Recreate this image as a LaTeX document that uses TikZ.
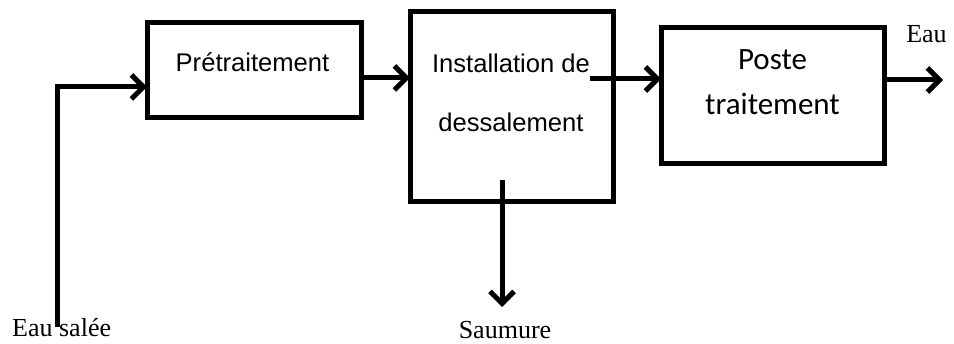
\documentclass[tikz,border=0pt]{standalone}
\usepackage{fontspec}
\setmainfont{Liberation Serif}
\newfontfamily\arialf{Liberation Sans}
\newfontfamily\calibrif{Carlito}
\usetikzlibrary{arrows.meta}

\begin{document}
\begin{tikzpicture}[x=1pt, y=-1pt,
  bloc/.style={draw, line width=5pt, inner sep=0pt, outer sep=0pt},
  flux/.style={line width=5pt, -{Straight Barb[length=12pt, width=24pt]}},
  texte/.style={anchor=base, inner sep=0pt, align=center},
  etiquette/.style={anchor=base, inner sep=0pt, font=\fontsize{26}{30}\selectfont}]
\useasboundingbox (0,0) rectangle (954,344);
% blocs
\node[bloc, minimum width=214pt, minimum height=95pt] (pretrait) at (254,70.5) {};
\node[bloc, minimum width=203pt, minimum height=190pt] (dessal) at (511.5,107) {};
\node[bloc, minimum width=223pt, minimum height=136pt] (poste) at (772.5,96) {};
\node[texte, font=\arialf\fontsize{25.6}{30}\selectfont] (pretraittxt) at (252.5,72) {Prétraitement};
\node[texte, font=\arialf\fontsize{25.6}{59}\selectfont] (dessaltxt) at (511,132) {Installation de\\dessalement};
\node[texte, font=\calibrif\fontsize{31}{45}\selectfont] (postetxt) at (772.5,115) {Poste\\traitement};
% entrees et sorties
\node[etiquette, anchor=base west] (seltxt) at (12,337) {Eau salée};
\node[etiquette] (saumure) at (505,339) {Saumure};
\node[etiquette] (eautxt) at (926.5,43) {Eau};
\coordinate (sel) at (57,327);
\coordinate (sortie) at (590,79);
\coordinate (rejet) at (502,180);
\coordinate (eau) at (943,80);
\coordinate (fond) at (502,307);
% flux
\draw[flux] (sel) |- ([yshift=-16.5pt]pretrait.west);
\draw[flux] ([yshift=-7.5pt]pretrait.east) -- ([yshift=-7.5pt]pretrait.east -| dessal.west);
\draw[flux] (sortie) -- (sortie -| poste.west);
\draw[flux] (eau -| poste.east) -- (eau);
\draw[flux] (rejet) -- (fond);
\end{tikzpicture}
\end{document}
